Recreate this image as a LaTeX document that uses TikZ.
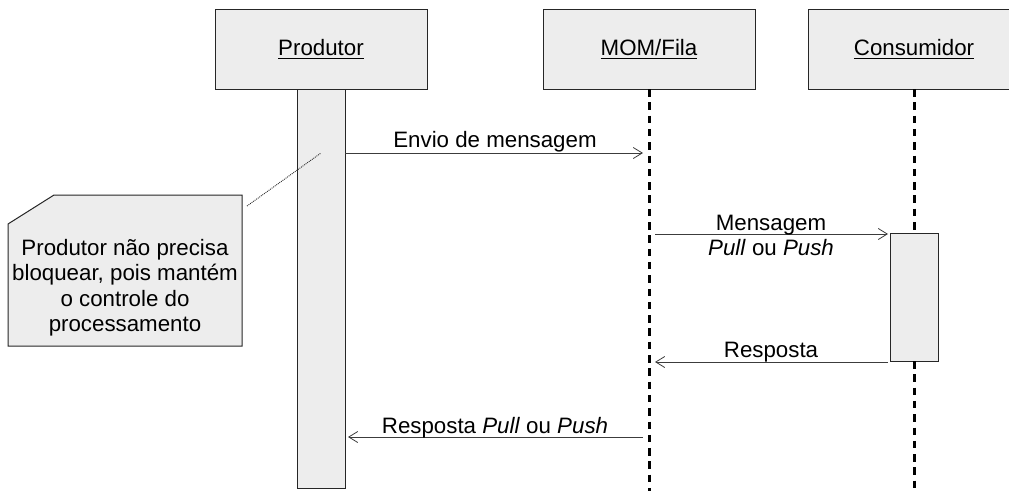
\documentclass[tikz,border=0pt]{standalone}
\usepackage{fontspec}
\setmainfont{Liberation Sans}
\usetikzlibrary{arrows.meta}
\newcommand\hdul[1]{\leavevmode\setbox0\hbox{#1}\rlap{\rule[-3.6pt]{\wd0}{1.1pt}}\box0}
\definecolor{boxfill}{RGB}{237,237,237}
\definecolor{linegray}{RGB}{60,60,60}
\tikzset{
  every node/.style={font=\fontsize{22.3}{25.5}\selectfont, inner sep=0pt, outer sep=0pt},
  head/.style={draw=black!85, fill=boxfill, line width=1pt, minimum width=212pt, minimum height=80pt},
  actbar/.style={draw=black!85, fill=boxfill, line width=1pt, minimum width=48pt},
  lifeline/.style={line width=3pt, dash pattern=on 7.5pt off 5.8pt},
  msg/.style={draw=linegray, line width=0.9pt, -{Straight Barb[length=9pt,width=11pt,line width=0.8pt]}},
  lbl/.style={anchor=base},
  notebox/.style={draw=black!85, fill=boxfill, line width=1pt},
}
\begin{document}
\begin{tikzpicture}[x=1pt,y=-1pt]
\useasboundingbox (0,0) rectangle (1009,491);
% headers
\node[head] (prod) at (321,49) {\hdul{Produtor}};
\node[head] (mom) at (649,49) {\hdul{MOM/Fila}};
\begin{scope}
\clip (0,0) rectangle (1009,491);
\node[head] (cons) at (914,49) {\hdul{Consumidor}};
\end{scope}
% activation bars
\node[actbar, minimum height=399pt] (prodbar) at (321,288.5) {};
\node[actbar, minimum height=128pt] (consbar) at (914,297) {};
% lifelines
\coordinate (momend) at (649,491);
\coordinate (consend) at (914,491);
\draw[lifeline] (mom.south) -- (momend);
\draw[lifeline] (cons.south) -- (consbar.north);
\draw[lifeline] (consbar.south) -- (consend);
% message endpoints on MOM lifeline
\coordinate (m1) at (643,153);
\coordinate (m2) at (655,234);
\coordinate (m3) at (655,362);
\coordinate (m4) at (643,437);
% messages
\draw[msg] (prodbar.east |- m1) -- (m1);
\node[lbl] (l1) at (495,147) {Envio de mensagem};
\draw[msg] (m2) -- ([xshift=-2pt]consbar.west |- m2);
\node[lbl] (l2a) at (771,230) {Mensagem};
\node[lbl] (l2b) at (771,255) {\textit{Pull} ou \textit{Push}};
\draw[msg] ([xshift=-2pt]consbar.west |- m3) -- (m3);
\node[lbl] (l3) at (771,357) {Resposta};
\draw[msg] (m4) -- ([xshift=3pt]prodbar.east |- m4);
\node[lbl] (l4) at (495,433) {Resposta \textit{Pull} ou \textit{Push}};
% note
\draw[notebox] (8,224) -- (54,195) -- (242,195) -- (242,346) -- (8,346) -- cycle;
\node[align=center] (note) at (125,287.5) {Produtor não precisa\\bloquear, pois mantém\\o controle do\\processamento};
\coordinate (notetip) at (247,206);
\coordinate (barpt) at (321,153);
\draw[densely dotted, line width=0.9pt, black!85] (notetip) -- (barpt);
\end{tikzpicture}
\end{document}
